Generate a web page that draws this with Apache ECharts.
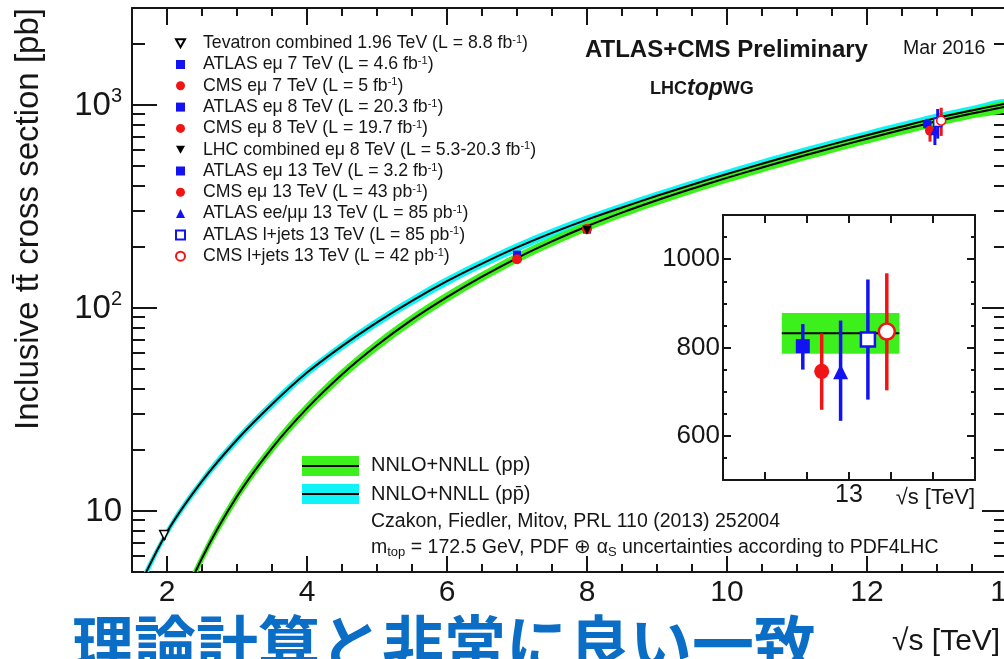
<!DOCTYPE html>
<html>
<head>
<meta charset="utf-8">
<script src="https://cdn.jsdelivr.net/npm/echarts@6.0.0/dist/echarts.min.js"></script>
<style>
  html, body { margin: 0; padding: 0; background: #fff; }
  #chart { width: 1004px; height: 659px; }
</style>
</head>
<body>
<div id="chart"></div>
<script>
// ---------------- theory: NNLO+NNLL top-pair cross sections [pb] vs sqrt(s) [TeV] ----------------
const ppSqrtS  = [2, 2.5, 3, 3.5, 4, 4.5, 5, 5.5, 6, 6.5, 7, 7.5, 8, 8.5, 9, 9.5, 10, 10.5, 11, 11.5, 12, 12.5, 13, 13.5, 14];
const ppXsec   = [2.38, 5.85, 11.8, 20.4, 32, 47.0, 65.4, 87.5, 113, 142.5, 176, 212.5, 252.4, 294.6, 339, 386, 436.8, 491.5, 550, 613, 680.6, 753.4, 831, 906.5, 984];
const ppUp     = [2.54, 6.24, 12.6, 21.7, 34.1, 50.0, 69.5, 92.8, 119.7, 150.7, 186, 224.3, 266.3, 310.8, 357.6, 407.2, 460.8, 518.5, 580.3, 646.7, 718, 794.8, 876.7, 956.4, 1038];
const ppDown   = [2.22, 5.47, 11.04, 19.1, 30.0, 44.1, 61.4, 82.2, 106.5, 134.5, 166.3, 200.8, 238.5, 278.4, 320.4, 364.8, 412.8, 464.5, 519.8, 579.3, 643.2, 712, 785.3, 856.6, 930];

const pbarSqrtS = [1.5, 2, 2.5, 3, 3.5, 4, 4.5, 5, 5.5, 6, 6.5, 7, 7.5, 8, 8.5, 9, 9.5, 10, 10.5, 11, 11.5, 12, 12.5, 13, 13.5, 14];
const pbarXsec  = [3.55, 7.85, 14.0, 22.4, 33.5, 48, 64.8, 84.9, 108.4, 135.4, 165.3, 198.6, 234.2, 272.2, 312.3, 356.4, 404.4, 456.4, 512.5, 573.3, 638.7, 708.6, 783.1, 862.6, 939, 1017];
const pbarUp    = [3.73, 8.24, 14.7, 23.5, 35.2, 50.4, 68.0, 89.1, 113.8, 142.2, 173.6, 208.5, 245.9, 285.8, 327.9, 374.2, 424.6, 479.2, 538.1, 602, 670.6, 744, 822.3, 905.7, 986, 1068];
const pbarDown  = [3.37, 7.46, 13.3, 21.3, 31.8, 45.6, 61.6, 80.7, 103, 128.6, 157, 188.7, 222.5, 258.6, 296.7, 338.6, 384.2, 433.6, 486.9, 544.6, 606.8, 673.2, 743.9, 819.5, 892, 966];

// theory band at 13 TeV shown in the zoom panel: [sqrt(s) from, to], [down, central, up]
const insetBandSqrtS = [12.84, 13.12];
const insetBandXsec  = [786, 832, 878];

// ---------------- measurements ----------------
const measurementNames = [
  'Tevatron combined 1.96 TeV (L = 8.8 fb-1)',
  'ATLAS eμ 7 TeV (L = 4.6 fb-1)',
  'CMS eμ 7 TeV (L = 5 fb-1)',
  'ATLAS eμ 8 TeV (L = 20.3 fb-1)',
  'CMS eμ 8 TeV (L = 19.7 fb-1)',
  'LHC combined eμ 8 TeV (L = 5.3-20.3 fb-1)',
  'ATLAS eμ 13 TeV (L = 3.2 fb-1)',
  'CMS eμ 13 TeV (L = 43 pb-1)',
  'ATLAS ee/μμ 13 TeV (L = 85 pb-1)',
  'ATLAS l+jets 13 TeV (L = 85 pb-1)',
  'CMS l+jets 13 TeV (L = 42 pb-1)'
];
const measurementSqrtS = [1.96, 7, 7, 8, 8, 8, 12.86, 12.9, 12.97, 13.01, 13.06];
const measurementXsec  = [7.60, 182.9, 173.6, 242.9, 244.9, 241.5, 803, 746, 745, 818, 836];
const measurementLow   = [7.19, 175.8, 167.2, 232.6, 235.9, 232.0, 750, 659, 634, 682, 703];
const measurementHigh  = [8.01, 190.0, 180.0, 253.2, 254.2, 251.0, 853, 832, 861, 954, 968];
// the five 13 TeV results, spread horizontally in the zoom panel
const insetIndices = [6, 7, 8, 9, 10];
const insetSqrtS   = [12.89, 12.935, 12.98, 13.045, 13.09];

// ---------------- axis ticks and labels ----------------
const xMajorTicks  = [2, 4, 6, 8, 10, 12, 14];
const xMinorTicks  = [1.5, 2.5, 3, 3.5, 4.5, 5, 5.5, 6.5, 7, 7.5, 8.5, 9, 9.5, 10.5, 11, 11.5, 12.5, 13, 13.5];
const yMajorTicks  = [10, 100, 1000];
const yMajorLabels = ['{b|10}', '{b|10}{s|2}', '{b|10}{s|3}'];
const yMinorTicks  = [5, 6, 7, 8, 9, 20, 30, 40, 50, 60, 70, 80, 90, 200, 300, 400, 500, 600, 700, 800, 900, 2000, 3000];
const insetXTicks  = [12.8, 12.9, 13.0, 13.1, 13.2];
const insetXLabels = [13];
const insetYMajor  = [600, 800, 1000];
const insetYMinor  = [550, 650, 700, 750, 850, 900, 950, 1050];

// ---------------- styling ----------------
const FONT = "'Liberation Sans', Arial, Helvetica, sans-serif";
const INK = '#161616';
const BLUE = '#1212f2';
const RED = '#f21414';
const GREEN = '#3cf01c';
const CYAN = '#10f4f8';
const DOWN_TRI = 'path://M0,0L10,0L5,9Z';
const markerStyles = [
  { symbol: DOWN_TRI, fill: '#fff', stroke: '#000', size: 9 },
  { symbol: 'rect', fill: BLUE, size: 8 },
  { symbol: 'circle', fill: RED, size: 10 },
  { symbol: 'rect', fill: BLUE, size: 8 },
  { symbol: 'circle', fill: RED, size: 10 },
  { symbol: DOWN_TRI, fill: '#000', size: 9 },
  { symbol: 'rect', fill: BLUE, size: 8 },
  { symbol: 'circle', fill: RED, size: 10 },
  { symbol: 'triangle', fill: BLUE, size: 9 },
  { symbol: 'rect', fill: '#fff', stroke: BLUE, size: 8 },
  { symbol: 'circle', fill: '#fff', stroke: RED, size: 9 }
];
const insetMarkerSize = [14, 15, 15, 14, 16];

function markerColor(i) { return markerStyles[i].stroke || markerStyles[i].fill; }

// filled band between an upper and a lower curve
function bandRenderer(xs, lo, hi) {
  return function (params, api) {
    if (params.dataIndex !== 0) return null;
    const upper = xs.map((x, i) => api.coord([x, hi[i]]));
    const lower = xs.map((x, i) => api.coord([x, lo[i]])).reverse();
    return {
      type: 'polygon',
      shape: { points: upper.concat(lower), smooth: 0.35 },
      style: { fill: api.visual('color'), stroke: null }
    };
  };
}

// vertical error bar: value = [x, low, high]
function errorBarRenderer(width) {
  return function (params, api) {
    const x = api.value(0);
    const a = api.coord([x, api.value(1)]);
    const b = api.coord([x, api.value(2)]);
    return {
      type: 'line',
      shape: { x1: a[0], y1: a[1], x2: b[0], y2: b[1] },
      style: { stroke: api.visual('color'), lineWidth: width }
    };
  };
}

function tickAxis(common, extra) { return Object.assign({}, common, extra); }

// ---------------- axes ----------------
const mainX = { type: 'value', gridIndex: 0, min: 1.5, max: 14, splitLine: { show: false } };
const mainY = { type: 'log', logBase: 10, gridIndex: 0, min: 5, max: 3000, splitLine: { show: false } };
const insetX = { type: 'value', gridIndex: 1, min: 12.7, max: 13.3, splitLine: { show: false } };
const insetY = { type: 'value', gridIndex: 1, min: 500, max: 1100, splitLine: { show: false } };
const frame = { color: INK, width: 2 };
const tickStyle = { color: INK, width: 2 };

const xAxes = [
  // 0: bottom, long ticks + labels
  tickAxis(mainX, {
    position: 'bottom',
    axisLine: { show: true, lineStyle: frame },
    axisTick: { show: true, inside: true, length: 16, customValues: xMajorTicks, lineStyle: tickStyle },
    axisLabel: { show: true, customValues: xMajorTicks, margin: 6, fontSize: 30, fontFamily: FONT, color: INK }
  }),
  // 1: bottom, short ticks
  tickAxis(mainX, {
    position: 'bottom',
    axisLine: { show: false },
    axisTick: { show: true, inside: true, length: 8, customValues: xMinorTicks, lineStyle: tickStyle },
    axisLabel: { show: false }
  }),
  // 2: top, long ticks
  tickAxis(mainX, {
    position: 'top',
    axisLine: { show: true, lineStyle: frame },
    axisTick: { show: true, inside: true, length: 17, customValues: xMajorTicks, lineStyle: tickStyle },
    axisLabel: { show: false }
  }),
  // 3: top, short ticks
  tickAxis(mainX, {
    position: 'top',
    axisLine: { show: false },
    axisTick: { show: true, inside: true, length: 8, customValues: xMinorTicks, lineStyle: tickStyle },
    axisLabel: { show: false }
  }),
  // 4: zoom panel bottom
  tickAxis(insetX, {
    position: 'bottom',
    axisLine: { show: true, lineStyle: frame },
    axisTick: { show: true, inside: true, length: 8, customValues: insetXTicks, lineStyle: tickStyle },
    axisLabel: { show: true, customValues: insetXLabels, margin: 3, fontSize: 25, fontFamily: FONT, color: INK }
  }),
  // 5: zoom panel top
  tickAxis(insetX, {
    position: 'top',
    axisLine: { show: true, lineStyle: frame },
    axisTick: { show: true, inside: true, length: 8, customValues: insetXTicks, lineStyle: tickStyle },
    axisLabel: { show: false }
  })
];

const yAxes = [
  // 0: left, decade ticks + labels
  tickAxis(mainY, {
    position: 'left',
    axisLine: { show: true, lineStyle: frame },
    axisTick: { show: true, inside: true, length: 25, customValues: yMajorTicks, lineStyle: tickStyle },
    axisLabel: {
      show: true, customValues: yMajorTicks, margin: 10, color: INK,
      formatter: (v) => yMajorLabels[yMajorTicks.findIndex(t => Math.abs(t - v) / t < 1e-6)],
      rich: {
        b: { fontSize: 33, fontFamily: FONT, color: INK, lineHeight: 36, verticalAlign: 'bottom' },
        s: { fontSize: 20, fontFamily: FONT, color: INK, lineHeight: 20, verticalAlign: 'top' }
      }
    }
  }),
  // 1: left, short ticks
  tickAxis(mainY, {
    position: 'left',
    axisLine: { show: false },
    axisTick: { show: true, inside: true, length: 13, customValues: yMinorTicks, lineStyle: tickStyle },
    axisLabel: { show: false }
  }),
  // 2: right, decade ticks
  tickAxis(mainY, {
    position: 'right',
    axisLine: { show: true, lineStyle: frame },
    axisTick: { show: true, inside: true, length: 25, customValues: yMajorTicks, lineStyle: tickStyle },
    axisLabel: { show: false }
  }),
  // 3: right, short ticks
  tickAxis(mainY, {
    position: 'right',
    axisLine: { show: false },
    axisTick: { show: true, inside: true, length: 13, customValues: yMinorTicks, lineStyle: tickStyle },
    axisLabel: { show: false }
  }),
  // 4: zoom panel left, long ticks + labels
  tickAxis(insetY, {
    position: 'left',
    axisLine: { show: true, lineStyle: frame },
    axisTick: { show: true, inside: true, length: 8, customValues: insetYMajor, lineStyle: tickStyle },
    axisLabel: { show: true, customValues: insetYMajor, margin: 3, fontSize: 26, fontFamily: FONT, color: INK, formatter: (v) => String(v) }
  }),
  // 5: zoom panel left, short ticks
  tickAxis(insetY, {
    position: 'left',
    axisLine: { show: false },
    axisTick: { show: true, inside: true, length: 4, customValues: insetYMinor, lineStyle: tickStyle },
    axisLabel: { show: false }
  }),
  // 6: zoom panel right, long ticks
  tickAxis(insetY, {
    position: 'right',
    axisLine: { show: true, lineStyle: frame },
    axisTick: { show: true, inside: true, length: 8, customValues: insetYMajor, lineStyle: tickStyle },
    axisLabel: { show: false }
  }),
  // 7: zoom panel right, short ticks
  tickAxis(insetY, {
    position: 'right',
    axisLine: { show: false },
    axisTick: { show: true, inside: true, length: 4, customValues: insetYMinor, lineStyle: tickStyle },
    axisLabel: { show: false }
  })
];

// ---------------- series ----------------
const series = [];

series.push({
  name: 'NNLO+NNLL (pp̄) band', type: 'custom', xAxisIndex: 0, yAxisIndex: 0, z: 2, clip: true, silent: true,
  itemStyle: { color: CYAN },
  renderItem: bandRenderer(pbarSqrtS, pbarDown, pbarUp),
  data: pbarSqrtS.map((x, i) => [x, pbarDown[i], pbarUp[i]])
});
series.push({
  name: 'NNLO+NNLL (pp) band', type: 'custom', xAxisIndex: 0, yAxisIndex: 0, z: 3, clip: true, silent: true,
  itemStyle: { color: GREEN },
  renderItem: bandRenderer(ppSqrtS, ppDown, ppUp),
  data: ppSqrtS.map((x, i) => [x, ppDown[i], ppUp[i]])
});
series.push({
  name: 'NNLO+NNLL (pp̄)', type: 'line', xAxisIndex: 0, yAxisIndex: 0, z: 4, clip: true, silent: true,
  smooth: 0.35, showSymbol: false, lineStyle: { color: '#000', width: 2 },
  data: pbarSqrtS.map((x, i) => [x, pbarXsec[i]])
});
series.push({
  name: 'NNLO+NNLL (pp)', type: 'line', xAxisIndex: 0, yAxisIndex: 0, z: 4, clip: true, silent: true,
  smooth: 0.35, showSymbol: false, lineStyle: { color: '#000', width: 2 },
  data: ppSqrtS.map((x, i) => [x, ppXsec[i]])
});

// error bars, main frame
series.push({
  name: 'errors', type: 'custom', xAxisIndex: 0, yAxisIndex: 0, z: 5, clip: true, silent: true,
  renderItem: errorBarRenderer(3),
  data: measurementNames.map((n, i) => ({
    value: [measurementSqrtS[i], measurementLow[i], measurementHigh[i]],
    itemStyle: { color: markerColor(i) }
  }))
});

// markers, main frame
measurementNames.forEach((name, i) => {
  const st = markerStyles[i];
  series.push({
    name: name, type: 'scatter', xAxisIndex: 0, yAxisIndex: 0, z: 6, silent: true,
    symbol: st.symbol, symbolSize: st.size,
    itemStyle: { color: st.fill, borderColor: st.stroke || st.fill, borderWidth: st.stroke ? 1.5 : 0, opacity: 1 },
    data: [[measurementSqrtS[i], measurementXsec[i]]]
  });
});

// zoom panel: theory band at 13 TeV
series.push({
  name: 'NNLO+NNLL (pp) 13 TeV', type: 'custom', xAxisIndex: 4, yAxisIndex: 4, z: 3, clip: true, silent: true,
  renderItem: function (params, api) {
    const x0 = api.value(0), x1 = api.value(1);
    const lo = api.coord([x0, api.value(2)]);
    const hi = api.coord([x1, api.value(4)]);
    const c0 = api.coord([x0, api.value(3)]);
    const c1 = api.coord([x1, api.value(3)]);
    return {
      type: 'group',
      children: [
        { type: 'rect', shape: { x: lo[0], y: hi[1], width: hi[0] - lo[0], height: lo[1] - hi[1] }, style: { fill: GREEN } },
        { type: 'line', shape: { x1: c0[0], y1: c0[1], x2: c1[0], y2: c1[1] }, style: { stroke: '#000', lineWidth: 2 } }
      ]
    };
  },
  data: [[insetBandSqrtS[0], insetBandSqrtS[1], insetBandXsec[0], insetBandXsec[1], insetBandXsec[2]]]
});

// zoom panel: error bars
series.push({
  name: 'errors 13 TeV', type: 'custom', xAxisIndex: 4, yAxisIndex: 4, z: 5, clip: true, silent: true,
  renderItem: errorBarRenderer(3.5),
  data: insetIndices.map((m, k) => ({
    value: [insetSqrtS[k], measurementLow[m], measurementHigh[m]],
    itemStyle: { color: markerColor(m) }
  }))
});

// zoom panel: markers
insetIndices.forEach((m, k) => {
  const st = markerStyles[m];
  series.push({
    name: measurementNames[m], type: 'scatter', xAxisIndex: 4, yAxisIndex: 4, z: 6, silent: true,
    symbol: st.symbol, symbolSize: insetMarkerSize[k],
    itemStyle: { color: st.fill, borderColor: st.stroke || st.fill, borderWidth: st.stroke ? 2.5 : 0, opacity: 1 },
    data: [[insetSqrtS[k], measurementXsec[m]]]
  });
});

// ---------------- annotations ----------------
function txt(x, y, text, font, extra) {
  return {
    type: 'text', x: x, y: y, z: 20, silent: true,
    style: Object.assign({
      text: text, font: font, fill: INK,
      align: 'left', verticalAlign: 'middle', textAlign: 'left', textVerticalAlign: 'middle'
    }, extra || {})
  };
}

const graphic = [
  // y-axis title
  {
    type: 'text', x: 29, y: 219, rotation: Math.PI / 2, z: 20, silent: true,
    style: {
      text: 'Inclusive tt\u0304 cross section [pb]', font: '33px ' + FONT, fill: INK,
      align: 'center', verticalAlign: 'middle', textAlign: 'center', textVerticalAlign: 'middle'
    }
  },
  txt(585, 50, 'ATLAS+CMS Preliminary', 'bold 24px ' + FONT),
  txt(903, 48.5, 'Mar 2016', '19.5px ' + FONT),
  txt(650, 89, '{b|LHC}{t|top}{b|WG}', '18px ' + FONT, {
    rich: {
      b: { fontFamily: FONT, fontWeight: 'bold', fontSize: 18, fill: INK },
      t: { fontFamily: FONT, fontWeight: 'bold', fontStyle: 'italic', fontSize: 23, fill: INK }
    }
  }),
  // theory legend keys
  { type: 'rect', z: 20, silent: true, shape: { x: 302, y: 456, width: 57, height: 20 }, style: { fill: GREEN } },
  { type: 'line', z: 21, silent: true, shape: { x1: 302, y1: 466, x2: 359, y2: 466 }, style: { stroke: '#000', lineWidth: 2 } },
  { type: 'rect', z: 20, silent: true, shape: { x: 302, y: 484, width: 57, height: 20 }, style: { fill: CYAN } },
  { type: 'line', z: 21, silent: true, shape: { x1: 302, y1: 494, x2: 359, y2: 494 }, style: { stroke: '#000', lineWidth: 2 } },
  txt(371, 465, 'NNLO+NNLL (pp)', '20px ' + FONT),
  txt(371, 494, 'NNLO+NNLL (pp\u0304)', '20px ' + FONT),
  txt(371, 521.5, 'Czakon, Fiedler, Mitov, PRL 110 (2013) 252004', '19.5px ' + FONT),
  txt(371, 548, 'm{sub|top} = 172.5 GeV, PDF ⊕ α{sub|S} uncertainties according to PDF4LHC', '19.5px ' + FONT, {
    lineHeight: 22,
    rich: { sub: { fontFamily: FONT, fontSize: 13, lineHeight: 2, verticalAlign: 'bottom', fill: INK } }
  }),
  // axis titles
  txt(975, 498, '√s [TeV]', '22px ' + FONT, { align: 'right', textAlign: 'right' }),
  txt(892, 642, '√s [TeV]', '30px ' + FONT),
  // caption
  {
    type: 'text', x: 72, y: 613, z: 20, silent: true,
    style: {
      text: '理論計算と非常に良い一致', font: 'bold 62px "Noto Sans CJK JP", sans-serif', fill: '#0a6ec6',
      align: 'left', verticalAlign: 'top', textAlign: 'left', textVerticalAlign: 'top'
    }
  }
];

const chart = echarts.init(document.getElementById('chart'), null, { renderer: 'canvas', width: 1004, height: 659 });
chart.setOption({
  animation: false,
  backgroundColor: '#fff',
  textStyle: { fontFamily: FONT },
  grid: [
    { left: 132, top: 8, width: 875, height: 564, containLabel: false, outerBoundsMode: 'none' },
    { left: 723, top: 215, width: 252, height: 265, containLabel: false, outerBoundsMode: 'none', show: true, backgroundColor: '#fff', borderWidth: 0 }
  ],
  xAxis: xAxes,
  yAxis: yAxes,
  legend: {
    orient: 'vertical', left: 170, top: 29.2, itemWidth: 9, itemHeight: 9, itemGap: 3.3,
    selectedMode: false, inactiveColor: INK,
    data: measurementNames,
    formatter: (name) => name.replace(/(fb|pb)-1\)$/, '$1{sup|-1})'),
    textStyle: {
      fontFamily: FONT, fontSize: 17.7, lineHeight: 18, color: INK, padding: [0, 0, 0, 13],
      rich: { sup: { fontFamily: FONT, fontSize: 11, lineHeight: 11, verticalAlign: 'top', color: INK } }
    }
  },
  graphic: graphic,
  series: series
});
</script>
</body>
</html>
